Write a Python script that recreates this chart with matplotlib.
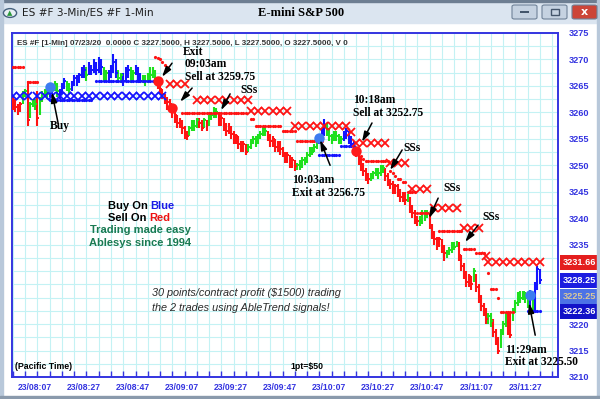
import matplotlib.pyplot as plt
import numpy as np
from matplotlib.patches import Rectangle, FancyBboxPatch, Circle
from matplotlib.transforms import blended_transform_factory

# ---- datos de las barras (una por minuto, 07:58 ... 11:33) ----
closes = [
    3262.0, 3261.0, 3260.5, 3261.5, 3263.5, 3264.0, 3258.5, 3261.5, 3262.0, 3261.5,
    3259.0, 3262.5, 3263.5, 3264.0, 3263.5, 3264.8, 3264.5, 3265.5, 3264.0, 3263.8,
    3265.0, 3266.0, 3265.0, 3264.5, 3265.5, 3266.5, 3266.0, 3267.0, 3267.5, 3268.0,
    3267.0, 3268.5, 3268.0, 3269.0, 3268.0, 3269.5, 3268.5, 3267.0, 3267.5, 3266.5,
    3268.0, 3269.5, 3267.5, 3266.5, 3267.0, 3266.0, 3267.5, 3268.0, 3266.5, 3267.5,
    3268.5, 3267.0, 3266.0, 3266.5, 3266.0, 3266.5, 3267.0, 3267.5, 3266.5, 3265.8,
    3264.5, 3263.5, 3262.5, 3262.0, 3261.5, 3260.8, 3259.5, 3258.0, 3258.5, 3257.0,
    3256.0, 3255.5, 3257.0, 3258.0, 3257.5, 3258.5, 3258.0, 3257.0, 3258.5, 3257.5,
    3259.0, 3259.5, 3260.5, 3260.0, 3258.5, 3259.0, 3257.5, 3256.5, 3257.5, 3256.0,
    3255.0, 3255.5, 3254.0, 3253.5, 3254.0, 3252.5, 3253.5, 3254.5, 3255.0, 3254.0,
    3255.5, 3256.0, 3257.0, 3256.5, 3255.5, 3254.5, 3255.0, 3253.5, 3254.0, 3253.0,
    3252.5, 3251.5, 3252.0, 3250.5, 3251.0, 3249.8, 3250.0, 3249.8, 3251.0, 3250.5,
    3252.0, 3253.0, 3252.5, 3253.5, 3254.5, 3255.0, 3256.0, 3257.5, 3256.5, 3255.5,
    3255.0, 3256.0, 3255.5, 3254.5, 3255.0, 3256.0, 3256.5, 3255.0, 3254.0, 3253.5,
    3252.5, 3251.0, 3250.0, 3249.0, 3248.0, 3247.5, 3248.0, 3248.5, 3249.0, 3248.5,
    3249.5, 3249.5, 3248.0, 3247.0, 3246.5, 3245.5, 3246.0, 3245.0, 3244.0, 3244.5,
    3243.5, 3244.0, 3242.0, 3241.0, 3240.0, 3239.5, 3240.0, 3241.0, 3240.5, 3241.0,
    3239.0, 3237.0, 3236.0, 3235.0, 3236.0, 3234.5, 3233.5, 3233.5, 3234.0, 3235.0,
    3234.5, 3235.5, 3233.0, 3231.0, 3229.5, 3228.0, 3229.0, 3227.5, 3230.0, 3227.0,
    3225.0, 3223.5, 3222.5, 3221.0, 3221.5, 3220.5, 3218.5, 3217.0, 3215.0, 3218.5,
    3220.0, 3221.0, 3219.0, 3218.0, 3222.5, 3224.0, 3225.5, 3225.0, 3226.0, 3225.0,
    3224.5, 3225.5, 3223.5, 3227.0, 3230.5, 3228.25]

highs = [
    3263.0, 3262.5, 3261.5, 3262.0, 3264.0, 3264.5, 3266.0, 3262.0, 3262.5, 3262.5,
    3264.0, 3263.0, 3264.0, 3264.5, 3264.5, 3265.5, 3265.5, 3266.0, 3265.5, 3264.5,
    3265.5, 3266.5, 3266.0, 3265.5, 3266.0, 3267.0, 3267.0, 3267.5, 3268.5, 3269.0,
    3268.5, 3269.5, 3269.0, 3270.0, 3269.5, 3270.5, 3270.0, 3268.5, 3268.0, 3268.0,
    3269.0, 3271.0, 3270.0, 3268.0, 3267.5, 3267.5, 3268.5, 3269.0, 3268.5, 3268.0,
    3269.0, 3268.5, 3267.5, 3267.0, 3267.0, 3267.5, 3268.5, 3268.5, 3268.0, 3266.5,
    3265.5, 3264.5, 3263.5, 3263.0, 3262.5, 3261.5, 3260.5, 3259.5, 3259.0, 3258.5,
    3257.5, 3256.5, 3257.5, 3258.5, 3258.5, 3259.0, 3259.0, 3258.5, 3259.0, 3258.5,
    3259.5, 3260.0, 3261.0, 3260.8, 3260.0, 3259.5, 3259.0, 3258.0, 3258.0, 3257.5,
    3256.5, 3256.0, 3255.5, 3254.5, 3254.5, 3254.0, 3254.0, 3255.0, 3255.5, 3255.5,
    3256.0, 3256.5, 3257.5, 3257.5, 3256.5, 3256.0, 3255.5, 3255.0, 3254.5, 3254.5,
    3253.5, 3252.5, 3252.5, 3252.0, 3251.5, 3251.0, 3250.5, 3251.0, 3251.5, 3251.5,
    3252.5, 3253.5, 3253.5, 3254.0, 3255.0, 3255.5, 3257.0, 3258.7, 3258.0, 3257.0,
    3256.0, 3256.5, 3256.5, 3256.0, 3255.5, 3256.5, 3257.0, 3256.5, 3255.5, 3254.5,
    3253.5, 3252.5, 3251.5, 3250.5, 3249.5, 3248.5, 3248.5, 3249.0, 3249.5, 3249.5,
    3250.0, 3250.0, 3249.5, 3248.5, 3247.5, 3247.0, 3246.5, 3246.5, 3245.5, 3245.0,
    3245.0, 3244.5, 3244.0, 3242.5, 3241.5, 3240.5, 3240.5, 3241.5, 3241.5, 3241.5,
    3241.0, 3239.0, 3237.5, 3236.5, 3236.5, 3236.0, 3235.0, 3234.0, 3234.5, 3235.5,
    3235.5, 3235.7, 3235.5, 3233.0, 3231.5, 3230.0, 3229.5, 3229.0, 3230.6, 3229.5,
    3227.5, 3225.5, 3224.0, 3223.0, 3222.0, 3222.0, 3221.0, 3219.0, 3217.5, 3219.0,
    3220.5, 3222.3, 3222.0, 3222.0, 3223.0, 3224.5, 3226.0, 3226.2, 3226.2, 3226.0,
    3225.5, 3226.5, 3225.0, 3228.0, 3231.0, 3230.5]

lows = [
    3260.5, 3260.0, 3259.5, 3260.0, 3261.5, 3263.0, 3257.5, 3259.0, 3261.0, 3260.5,
    3257.5, 3259.5, 3262.0, 3263.0, 3262.5, 3263.0, 3263.5, 3264.0, 3263.0, 3262.5,
    3263.5, 3264.5, 3264.0, 3263.5, 3264.0, 3265.0, 3265.0, 3265.5, 3266.5, 3266.5,
    3266.0, 3267.0, 3267.0, 3267.5, 3267.0, 3267.5, 3267.0, 3266.0, 3266.0, 3265.5,
    3266.5, 3267.5, 3266.5, 3265.5, 3265.5, 3265.0, 3266.0, 3266.5, 3265.5, 3266.0,
    3267.0, 3266.0, 3265.5, 3265.5, 3265.0, 3265.5, 3266.0, 3266.5, 3265.5, 3264.5,
    3263.5, 3262.5, 3261.5, 3260.5, 3260.0, 3259.0, 3258.0, 3257.0, 3257.0, 3256.0,
    3255.0, 3254.8, 3255.5, 3256.5, 3256.5, 3257.0, 3257.0, 3256.5, 3257.0, 3256.5,
    3257.5, 3258.5, 3259.0, 3259.0, 3257.5, 3257.5, 3256.5, 3255.5, 3256.0, 3255.0,
    3254.0, 3254.0, 3253.0, 3252.5, 3252.5, 3252.0, 3252.5, 3253.0, 3254.0, 3253.5,
    3254.0, 3255.0, 3255.5, 3255.5, 3254.5, 3253.5, 3253.5, 3252.5, 3252.5, 3252.0,
    3251.5, 3250.5, 3250.5, 3249.5, 3249.5, 3249.0, 3249.2, 3249.2, 3249.5, 3250.0,
    3250.5, 3251.5, 3252.0, 3252.5, 3253.0, 3254.0, 3254.5, 3255.5, 3255.5, 3254.5,
    3254.0, 3254.5, 3254.5, 3254.0, 3254.0, 3254.5, 3255.0, 3254.0, 3253.5, 3252.5,
    3251.5, 3250.0, 3249.0, 3248.0, 3247.0, 3246.5, 3247.0, 3247.5, 3248.0, 3247.5,
    3248.0, 3248.5, 3247.0, 3246.0, 3245.5, 3244.5, 3244.5, 3244.0, 3243.0, 3243.0,
    3242.5, 3243.0, 3241.0, 3240.0, 3239.0, 3238.5, 3238.5, 3239.0, 3239.5, 3240.0,
    3238.0, 3236.0, 3235.0, 3234.0, 3234.5, 3233.5, 3232.0, 3232.5, 3233.0, 3233.5,
    3234.0, 3234.5, 3232.0, 3230.0, 3228.5, 3227.0, 3227.0, 3226.5, 3228.0, 3226.0,
    3224.0, 3222.5, 3221.5, 3220.0, 3220.0, 3219.5, 3217.5, 3216.0, 3214.3, 3215.5,
    3218.0, 3219.5, 3218.0, 3217.4, 3220.5, 3222.0, 3223.5, 3224.0, 3224.5, 3224.0,
    3223.0, 3222.5, 3222.5, 3222.5, 3226.5, 3227.5]

# color de cada barra: b = largo, r = corto, g = neutral
bar_colors = ("rrrrggrggg" "rggggbbggb" "bbggbbbbbb" "gbbbbbbggb" "bbbggbbbgg"
              "bbbggggggr" "rrrrrrrrrr" "rrggggrrgr" "ggggrrrrrr" "rrrrrrgggg"
              "ggggrrrrrr" "rrrrrrgggg" "gggggbbbgg" "gggggbbbbb" "rrrrrrgggg"
              "ggrrrrrrrr" "rgrrrrgggg" "rrrrrrrggg" "ggrrrrrrgr" "rrrrggrrrg"
              "ggrrgggggg" "gbgbbb")

# niveles del indicador: (barra inicio, barra fin, precio)
red_dots = [(0, 4, 3268.6), (6, 10, 3265.8),
            (58, 58, 3270.5), (59, 59, 3270.3), (60, 60, 3270.0), (61, 61, 3269.6),
            (62, 62, 3269.0), (63, 63, 3268.5),
            (69, 95, 3259.9), (97, 98, 3258.7), (99, 109, 3257.4), (110, 115, 3256.5),
            (116, 126, 3254.6), (142, 142, 3251.8), (143, 143, 3251.2), (144, 153, 3250.8),
            (154, 154, 3249.0), (155, 155, 3248.6), (156, 156, 3248.0), (157, 158, 3247.4),
            (159, 160, 3246.8), (161, 164, 3245.0), (165, 170, 3241.0), (174, 183, 3237.6),
            (184, 188, 3234.2), (189, 192, 3233.5), (194, 194, 3229.6), (195, 197, 3226.6),
            (198, 198, 3224.9), (199, 204, 3222.2)]
red_xs = [(64, 71, 3265.4), (75, 96, 3262.4), (97, 114, 3260.3), (115, 137, 3257.4),
          (138, 139, 3256.3), (140, 153, 3254.2), (154, 162, 3250.5), (163, 171, 3245.5),
          (172, 183, 3242.0), (184, 191, 3238.2), (193, 193, 3232.8), (194, 215, 3231.66)]
blue_dots = [(15, 32, 3262.3), (34, 59, 3265.9), (125, 133, 3252.0), (134, 139, 3253.7),
             (210, 215, 3222.4)]
blue_xs = [(0, 8, 3263.1), (10, 63, 3263.1)]

# señales: (barra, precio, tipo)
signals = [(15, 3264.8, 'b'), (59, 3265.9, 'r'), (65, 3260.8, 'r'),
           (125, 3255.2, 'b'), (140, 3252.7, 'r'), (211, 3225.4, 'b')]

time_labels = ['23/08:07', '23/08:27', '23/08:47', '23/09:07', '23/09:27', '23/09:47',
               '23/10:07', '23/10:27', '23/10:47', '23/11:07', '23/11:27']
label_bars = [9, 29, 49, 69, 89, 109, 129, 149, 169, 189, 209]

price_ticks = [3210, 3215, 3220, 3225, 3230, 3235, 3240, 3245, 3250, 3255, 3260, 3265, 3270, 3275]
price_labels = ['3210', '3215', '3220', '', '', '3235', '3240', '3245', '3250', '3255',
                '3260', '3265', '3270', '3275']

last_values = [3231.66, 3228.25, 3225.25, 3222.36]
last_box = ['#e41e1e', '#1c1ce0', '#4c72e6', '#1212c8']
last_text = ['white', 'white', '#d8c89a', 'white']

# notas: (barra, precio, texto)
notes = [(69.4, 3271.4, 'Exit'), (70.2, 3269.1, '09:03am'), (70.2, 3266.7, 'Sell at 3259.75'),
         (92.7, 3264.2, 'SSs'), (138.8, 3262.3, '10:18am'), (138.8, 3259.9, 'Sell at 3252.75'),
         (113.9, 3247.2, '10:03am'), (113.9, 3244.8, 'Exit at 3256.75'),
         (159.2, 3253.3, 'SSs'), (175.5, 3245.7, 'SSs'), (191.4, 3240.2, 'SSs'),
         (200.8, 3215.1, '11:29am'), (200.8, 3212.8, 'Exit at 3225.50')]
# flechas: (desde, hasta)
arrows = [((18.4, 3258.0), (15.9, 3263.8)), ((64.9, 3269.3), (60.8, 3266.7)),
          ((73.1, 3264.6), (68.2, 3262.0)), ((88.6, 3263.5), (84.9, 3260.4)),
          ((129.4, 3250.0), (125.3, 3254.8)), ((146.5, 3258.0), (142.4, 3254.4)),
          ((158.8, 3252.9), (153.9, 3249.1)), ((173.5, 3243.8), (169.8, 3240.0)),
          ((189.8, 3238.7), (184.5, 3235.5)), ((213.1, 3217.9), (210.6, 3224.0))]

COL = {'r': '#ff1414', 'g': '#1ee01e', 'b': '#1414ff'}
AXBLUE = '#3434e0'

fig = plt.figure(figsize=(6, 3.99), dpi=100)
fig.patch.set_facecolor('white')

def fx(px): return px / 600
def fy(py): return 1 - py / 399

# marco de la ventana
fig.add_artist(Rectangle((0, fy(23)), 1, 23 / 399, transform=fig.transFigure, color='#dbe5f0', zorder=0))
fig.add_artist(Rectangle((0, fy(1.5)), 1, 1.5 / 399, transform=fig.transFigure, color='#6d7e92', zorder=1))
fig.add_artist(Rectangle((0, 0), fx(3), 1, transform=fig.transFigure, color='#b8c8da', zorder=1))
fig.add_artist(Rectangle((fx(597), 0), fx(3), 1, transform=fig.transFigure, color='#b8c8da', zorder=1))
fig.add_artist(Rectangle((0, 0), 1, 3 / 399, transform=fig.transFigure, color='#8a9aac', zorder=1))
fig.add_artist(Circle((fx(10), fy(13)), 0.011, transform=fig.transFigure, fc='#e8eef4', ec='#44607c', lw=1, zorder=2))
fig.text(fx(10), fy(13.5), '▲', color='#2a9a3a', fontsize=5, ha='center', va='center')
fig.text(fx(22), fy(13), 'ES #F 3-Min/ES #F 1-Min', fontsize=7.6, color='#1e1e1e',
         family='DejaVu Sans', va='center', ha='left')
fig.text(fx(258), fy(13), 'E-mini S&P 500', fontsize=9, weight='bold', family='Liberation Serif',
         va='center', ha='left')
for bx, fc in [(512, '#c5d2e1'), (542, '#c5d2e1'), (572, '#cc4538')]:
    fig.add_artist(FancyBboxPatch((fx(bx), fy(19)), fx(25), 14 / 399, transform=fig.transFigure,
                                  boxstyle='round,pad=0,rounding_size=0.004', fc=fc, ec='#6f8298', lw=0.8))
fig.add_artist(Rectangle((fx(520), fy(13)), fx(9), 2 / 399, transform=fig.transFigure, fc='#44566c'))
fig.add_artist(Rectangle((fx(551), fy(15)), fx(8), 6 / 399, transform=fig.transFigure, fc='none', ec='#44566c', lw=1))
fig.text(fx(584.5), fy(12), 'x', color='white', weight='bold', fontsize=8, ha='center', va='center')

ax = fig.add_axes([fx(12), fy(377), 546 / 600, 344 / 399])
ax.set_xlim(-0.4, 222.4)
ax.set_ylim(3210, 3275)

# barras HLC
n = len(closes)
idx = np.arange(n)
cols = [COL[c] for c in bar_colors]
ax.vlines(idx, lows, highs, colors=cols, lw=1.5, zorder=3)
ax.hlines(closes, idx, idx + 0.75, colors=cols, lw=1.4, zorder=3)

# indicador: puntos y cruces
for segs, col in [(red_dots, COL['r']), (blue_dots, COL['b'])]:
    for s, e, p in segs:
        xs = np.arange(s, e + 1)
        ax.plot(xs, [p] * len(xs), ls='none', marker='o', ms=2.3, color=col, mew=0, zorder=4)
for segs, col in [(red_xs, COL['r']), (blue_xs, COL['b'])]:
    for s, e, p in segs:
        xs = np.arange(s, e + 1, 3)
        ax.plot(xs, [p] * len(xs), ls='none', marker='x', ms=5.5, mew=1.3, color=col, zorder=4)

for i, p, t in signals:
    ax.plot(i, p, 'o', ms=7.5, color='#3d7cf0' if t == 'b' else '#ff1a1a', mew=0, zorder=6)

for x, y, t in notes:
    ax.text(x, y, t, fontsize=8.3, weight='bold', family='Liberation Serif', ha='left',
            va='center', zorder=8, clip_on=False)
ax.text(19.2, 3257.4, 'Buy', fontsize=8.3, weight='bold', family='Liberation Serif',
        ha='center', va='center', zorder=8)
for (x0, y0), (x1, y1) in arrows:
    ax.annotate('', xy=(x1, y1), xytext=(x0, y0), zorder=7,
                arrowprops=dict(arrowstyle='-|>,head_length=0.6,head_width=0.18', color='black',
                                lw=1.1, shrinkA=0, shrinkB=0))

# textos fijos
ax.text(0.01, 0.97, 'ES #F [1-Min] 07/23/20  0.0000 C 3227.5000, H 3227.5000, L 3227.5000, '
        'O 3227.5000, V 0', transform=ax.transAxes, fontsize=5.8, weight='bold', color='#333333',
        family='Liberation Sans', va='center')
for yy, parts in [(0.498, [('Buy On ', 'black'), ('Blue', '#1a1ae6')]),
                  (0.463, [('Sell On ', 'black'), ('Red', '#ee1111')])]:
    txt = ax.text(0.175, yy, parts[0][0], transform=ax.transAxes, fontsize=8, weight='bold',
                  family='Liberation Sans', color=parts[0][1], ha='left', va='center')
    ax.annotate(parts[1][0], xycoords=txt, xy=(1, 0), va='bottom', fontsize=8, weight='bold',
                family='Liberation Sans', color=parts[1][1])
ax.text(0.235, 0.427, 'Trading made easy', transform=ax.transAxes, fontsize=8, weight='bold',
        family='Liberation Sans', color='#1a7a52', ha='center', va='center')
ax.text(0.235, 0.390, 'Ablesys since 1994', transform=ax.transAxes, fontsize=8, weight='bold',
        family='Liberation Sans', color='#1a7a52', ha='center', va='center')
ax.text(0.257, 0.245, '30 points/contract profit ($1500) trading', transform=ax.transAxes,
        fontsize=7.8, style='italic', family='Liberation Sans', color='#2a2a2a', va='center')
ax.text(0.257, 0.202, 'the 2 trades using AbleTrend signals!', transform=ax.transAxes,
        fontsize=7.8, style='italic', family='Liberation Sans', color='#2a2a2a', va='center')
ax.text(0.006, 0.03, '(Pacific Time)', transform=ax.transAxes, fontsize=6.3, weight='bold',
        family='Liberation Sans', va='center')
ax.text(0.51, 0.03, '1pt=$50', transform=ax.transAxes, fontsize=6.3, weight='bold',
        family='Liberation Sans', va='center')

# ejes, rejilla
ax.set_xticks(label_bars, time_labels)
ax.set_xticks(np.arange(0, 223, 5), minor=True)
ax.set_yticks(price_ticks, price_labels)
ax.set_yticks(np.arange(3210, 3276, 2.5), minor=True)
ax.yaxis.tick_right()
ax.tick_params(axis='x', which='major', length=0, pad=4, labelsize=6.2, labelcolor=AXBLUE)
ax.tick_params(axis='x', which='minor', direction='in', length=4, color=AXBLUE, width=1)
ax.tick_params(axis='y', which='both', length=0, pad=8, labelsize=6.6, labelcolor=AXBLUE)
for lab in ax.get_xticklabels() + ax.get_yticklabels():
    lab.set_fontweight('bold')
    lab.set_family('Liberation Sans')
ax.grid(which='minor', axis='x', color='#c4f2f4', lw=0.8)
ax.grid(which='both', axis='y', color='#c4f2f4', lw=0.8)
ax.set_axisbelow(True)
for sp in ax.spines.values():
    sp.set_color(AXBLUE)
    sp.set_linewidth(1.4)

# etiquetas de último valor
tr = blended_transform_factory(ax.transAxes, ax.transData)
for v, fc, tc in zip(last_values, last_box, last_text):
    ax.add_patch(Rectangle((1.003, v - 1.45), 0.09, 2.9, transform=tr, fc=fc, ec='none',
                           clip_on=False, zorder=9))
    ax.text(1.008, v, f'{v:.2f}', transform=tr, fontsize=6.6, weight='bold', color=tc,
            family='Liberation Sans', va='center', ha='left', zorder=10, clip_on=False)

fig.savefig('out.png', dpi=100)
